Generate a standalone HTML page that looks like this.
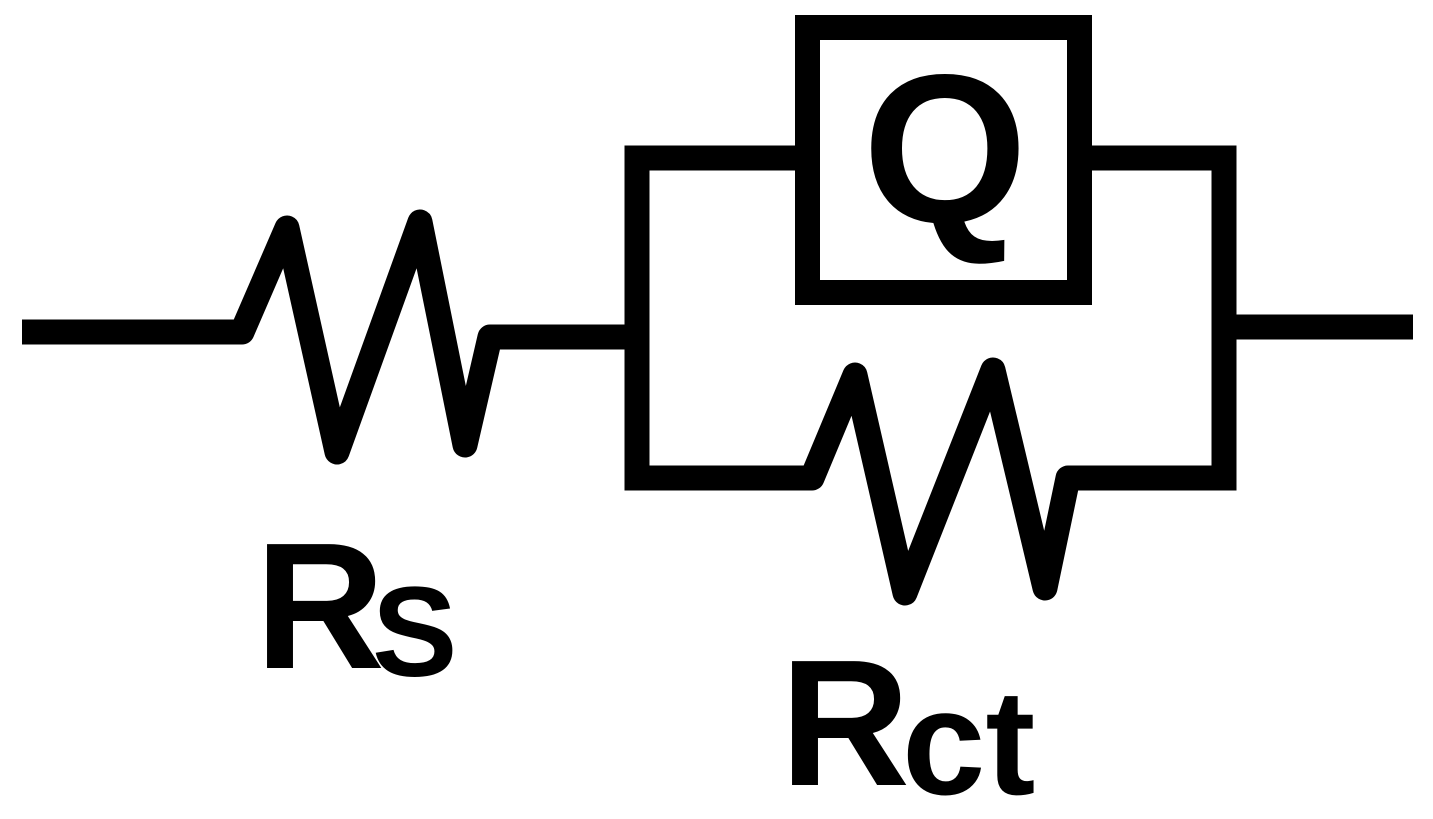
<!DOCTYPE html>
<html><head><meta charset="utf-8"><style>
html,body{margin:0;padding:0;background:#fff;}
svg{display:block;}
text{font-family:"Liberation Sans",Arial,sans-serif;font-weight:bold;fill:#000;}
</style></head><body>
<svg width="1433" height="819" viewBox="0 0 1433 819" xmlns="http://www.w3.org/2000/svg">
<g fill="none" stroke="#000" stroke-width="25" stroke-linecap="butt">
<polyline stroke-linejoin="round" points="22,332 242,332 287,228 337,452 420,222 465,445 490,337 637,337"/>
<polyline stroke-linejoin="round" points="808,158 637,158 637,478 812,478 855,375 905,593 993,370 1045,588 1068,478 1224,478 1224,158 1079,158"/>
<rect stroke-linejoin="miter" x="807.5" y="27.5" width="272" height="265"/>
<line x1="1224" y1="327" x2="1413" y2="327"/>
</g>
<g fill="#000">
<rect x="624.5" y="145.5" width="25" height="25"/>
<rect x="624.5" y="465.5" width="25" height="25"/>
<rect x="1211.5" y="465.5" width="25" height="25"/>
<rect x="1211.5" y="145.5" width="25" height="25"/>
</g>
<text x="945" y="222" font-size="212" text-anchor="middle">Q</text>
<text x="255" y="668" font-size="180">R</text>
<text x="372" y="676" font-size="128">S</text>
<text x="780" y="785" font-size="180">R</text>
<text x="902" y="794" font-size="150">ct</text>
</svg>
</body></html>
